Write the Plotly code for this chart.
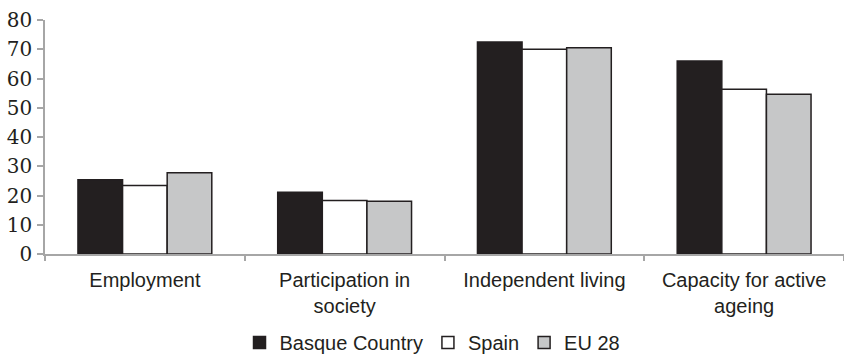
import plotly.graph_objects as go

# Dimension names and scores per region
categories = ["Employment", "Participation in<br>society", "Independent living",
              "Capacity for active<br>ageing"]
basque_country = [25.4, 21.1, 72.5, 66.0]
spain = [23.4, 18.3, 70.0, 56.3]
eu28 = [27.8, 18.0, 70.5, 54.6]

y_ticks = [0, 10, 20, 30, 40, 50, 60, 70, 80]

INK = "#231f20"
AXIS = "#a6a6a6"

series = [
    ("Basque Country", basque_country, INK),
    ("Spain", spain, "#ffffff"),
    ("EU 28", eu28, "#c6c7c8"),
]

fig = go.Figure()
for name, values, fill in series:
    fig.add_trace(go.Bar(
        name=name,
        x=categories,
        y=values,
        marker=dict(color=fill, line=dict(color=INK, width=1.5)),
    ))

fig.update_layout(
    width=844,
    height=355,
    margin=dict(l=45, r=0, t=20, b=101, autoexpand=False),
    paper_bgcolor="white",
    plot_bgcolor="white",
    barmode="group",
    bargap=0.33,
    bargroupgap=0,
    showlegend=True,
    legend=dict(
        orientation="h",
        x=0.485, xanchor="center",
        y=-0.378, yanchor="middle",
        font=dict(family="Liberation Sans, Arial, sans-serif", size=20, color=INK),
        itemwidth=30,
        traceorder="normal",
    ),
    xaxis=dict(
        automargin=False,
        showgrid=False,
        showline=True,
        linecolor=AXIS,
        linewidth=1.5,
        ticks="outside",
        tickson="boundaries",
        ticklen=5,
        tickcolor=AXIS,
        tickwidth=1.5,
        tickfont=dict(family="Liberation Sans, Arial, sans-serif", size=20, color=INK),
        ticklabelstandoff=7,
    ),
    yaxis=dict(
        automargin=False,
        range=[0, 80],
        tickvals=y_ticks,
        showgrid=False,
        zeroline=False,
        showline=True,
        linecolor=AXIS,
        linewidth=1.5,
        ticks="outside",
        ticklen=6,
        tickcolor=AXIS,
        tickwidth=1.5,
        tickfont=dict(family="DejaVu Serif, serif", size=20, color=INK),
        ticklabelstandoff=1,
    ),
)

fig.write_html("out.html")
